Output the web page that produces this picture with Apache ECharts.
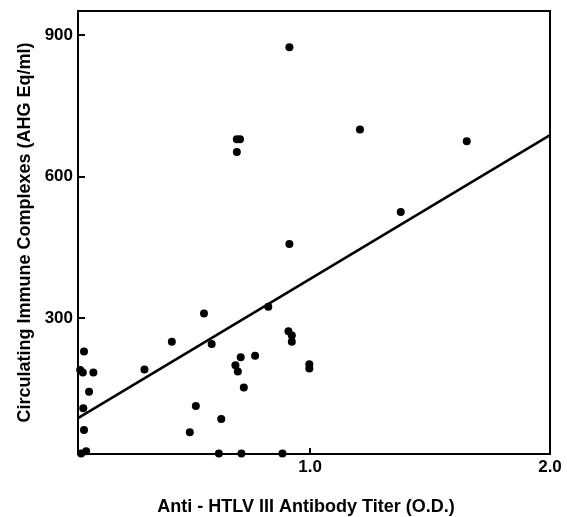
<!DOCTYPE html>
<html>
<head>
<meta charset="utf-8">
<script src="https://cdn.jsdelivr.net/npm/echarts@6/dist/echarts.min.js"></script>
<style>html,body{margin:0;padding:0;background:#fff;}#c{width:567px;height:517px;}</style>
</head>
<body>
<div id="c"></div>
<script>
// Antibody titer (O.D.) and immune complex values
var titerX = [0.914, 0.695, 0.708, 0.695, 1.208, 1.653, 1.378, 0.914, 0.826, 0.558,
              0.424, 0.590, 0.310, 0.711, 0.771, 0.689, 0.699, 0.724, 0.524, 0.630,
              0.499, 0.620, 0.714, 0.885, 0.910, 0.924, 0.924, 0.997, 0.997, 0.058,
              0.042, 0.053, 0.097, 0.079, 0.055, 0.058, 0.067, 0.046];
var complexY = [874, 679, 679, 652, 700, 675, 525, 457, 324, 310,
                250, 245, 191, 217, 220, 200, 187, 153, 114, 86,
                58, 13, 13, 13, 272, 263, 250, 202, 193, 229,
                190, 185, 185, 144, 109, 63, 18, 13];
// Regression line endpoints
var fitX = [0.033, 2.0];
var fitY = [88, 688];
// Tick labels
var yTicks = [300, 600, 900];
var xTicks = [1.0, 2.0];

var pts = titerX.map(function (x, i) { return [x, complexY[i]]; });
var fit = fitX.map(function (x, i) { return [x, fitY[i]]; });

var font = 'Liberation Sans, Arial, Helvetica, sans-serif';
var chart = echarts.init(document.getElementById('c'));
chart.setOption({
  backgroundColor: '#fff',
  animation: false,
  grid: { left: 78, right: 17, top: 11, bottom: 63, containLabel: false, outerBoundsMode: 'none',
          show: true, borderColor: '#000', borderWidth: 2, backgroundColor: 'transparent' },
  xAxis: {
    type: 'value', min: 0.033, max: 2.0,
    name: 'Anti - HTLV III Antibody Titer (O.D.)',
    nameLocation: 'middle', nameGap: 44,
    nameTextStyle: { color: '#000', fontFamily: font, fontWeight: 'bold', fontSize: 18, padding: [0, 16, 0, 0] },
    axisLine: { show: true, lineStyle: { color: '#000', width: 2 } },
    axisTick: { show: true, inside: true, length: 6, lineStyle: { color: '#000', width: 2 }, customValues: xTicks },
    axisLabel: { color: '#000', fontFamily: font, fontWeight: 'bold', fontSize: 17, margin: 5, customValues: xTicks,
                 formatter: function (v) { return v.toFixed(1); } },
    splitLine: { show: false }
  },
  yAxis: {
    type: 'value', min: 12, max: 951,
    name: 'Circulating Immune Complexes (AHG Eq/ml)',
    nameLocation: 'middle', nameGap: 41, nameRotate: 90,
    nameTextStyle: { color: '#000', fontFamily: font, fontWeight: 'bold', fontSize: 18 },
    axisLine: { show: true, lineStyle: { color: '#000', width: 2 } },
    axisTick: { show: true, inside: true, length: 7, lineStyle: { color: '#000', width: 2 }, customValues: yTicks },
    axisLabel: { color: '#000', fontFamily: font, fontWeight: 'bold', fontSize: 17, margin: 5, customValues: yTicks },
    splitLine: { show: false }
  },
  series: [
    {
      type: 'line', data: fit, symbol: 'none',
      lineStyle: { color: '#000', width: 2.5 }, z: 2
    },
    {
      type: 'scatter', data: pts, symbol: 'circle', symbolSize: 8,
      itemStyle: { color: '#000', opacity: 1 }, z: 3
    }
  ]
});
</script>
</body>
</html>
